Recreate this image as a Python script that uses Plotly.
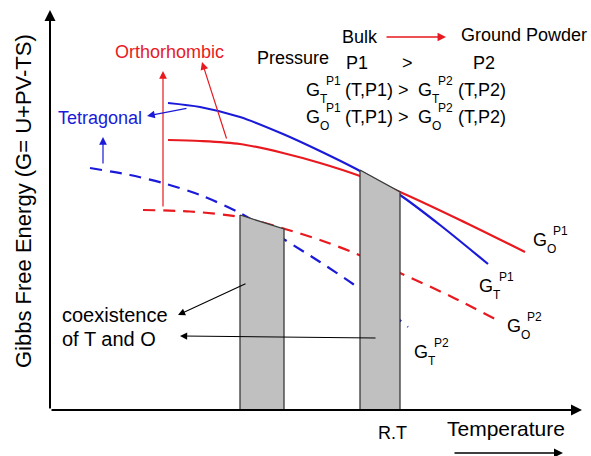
import plotly.graph_objects as go

# ---- schematic curve data (temperature -> x, Gibbs energy -> y, y axis drawn reversed) ----
T_GT_P1 = [168, 200, 240, 283, 320, 360, 400, 440, 488]
G_GT_P1 = [103, 107, 117, 134, 151, 171, 195, 225, 264]

T_GO_P1 = [168, 200, 240, 283, 320, 360, 400, 460, 525]
G_GO_P1 = [140, 141, 144, 153, 163, 176, 192, 220, 252]

T_GT_P2 = [90, 130, 163, 200, 240, 285, 320, 353, 380, 408]
G_GT_P2 = [168, 175, 183, 195, 213, 240, 262, 284, 304, 327]

T_GO_P2 = [143, 190, 240, 285, 320, 352, 400, 450, 497]
G_GO_P2 = [210, 211.5, 217, 229, 240, 252, 273, 296, 320]

# coexistence regions (shaded)
BOX1_T = [240, 284, 284, 240, 240]
BOX1_G = [215, 229, 410, 410, 215]
BOX2_T = [360, 400, 400, 360, 360]
BOX2_G = [170, 192, 410, 410, 170]

RED = "#e8191f"
BLUE = "#1a1ad8"
FONT = "Liberation Sans, Arial, sans-serif"

fig = go.Figure()

def curve(x, y, color, dash=None):
    fig.add_trace(go.Scatter(x=x, y=y, mode="lines", hoverinfo="skip",
                             line=dict(color=color, width=2.2, shape="spline",
                                       smoothing=0.8, dash=dash)))

curve(T_GT_P2, G_GT_P2, BLUE, "12px,8px")
curve(T_GO_P2, G_GO_P2, RED, "12px,8px")
curve(T_GO_P1, G_GO_P1, RED)
curve(T_GT_P1, G_GT_P1, BLUE)

for bx, by in [(BOX1_T, BOX1_G), (BOX2_T, BOX2_G)]:
    fig.add_trace(go.Scatter(x=bx, y=by, mode="lines", fill="toself",
                             fillcolor="#c0c0c0", hoverinfo="skip",
                             line=dict(color="#3a3a3a", width=1.3)))

ann = []

def arrow(x0, y0, x1, y1, color="black", width=1.2, head=2, size=1.3):
    ann.append(dict(x=x1, y=y1, ax=x0, ay=y0, xref="x", yref="y", axref="x", ayref="y",
                    showarrow=True, text="", arrowhead=head, arrowsize=size,
                    arrowwidth=width, arrowcolor=color, standoff=0, startstandoff=0))

def text(x, y, s, size=18, color="black", xanchor="left", angle=0):
    ann.append(dict(x=x, y=y, xref="x", yref="y", text=s, showarrow=False,
                    xanchor=xanchor, yanchor="middle", textangle=angle,
                    font=dict(family=FONT, size=size, color=color)))

def glabel(x0, y, sub, sup, size=18, ssize=12):
    text(x0, y, "G", size)
    text(x0 + 14, y + 9, sub, ssize)
    text(x0 + 20, y - 9, sup, ssize)

# axes
arrow(50, 410, 50, 10, width=2, size=1.1)
arrow(50, 410, 582, 410, width=2, size=1.1)
arrow(453, 453, 563, 453, width=1.5, size=1.2)

# phase arrows
arrow(163, 208, 163, 71, RED, 1.2)
arrow(227, 140, 202, 62, RED, 1.2)
arrow(188, 108, 147, 116, BLUE, 1.2)
arrow(103, 165, 103, 137, BLUE, 1.2)
arrow(247, 283, 178, 315, "black", 1.1)
arrow(377, 338, 180, 336, "black", 1.1)
arrow(385, 37, 446, 37, RED, 1.3)

# texts
text(23, 201, "Gibbs Free Energy (G= U+PV-TS)", 22, xanchor="center", angle=-90)
text(169, 52, "Orthorhombic", 18, RED, "center")
text(100, 118, "Tetragonal", 18, BLUE, "center")
text(293, 58, "Pressure", 18, xanchor="center")
text(360, 37, "Bulk", 18, xanchor="center")
text(524, 35, "Ground Powder", 18, xanchor="center")
text(357, 63, "P1", 18, xanchor="center")
text(407, 63, ">", 18, xanchor="center")
text(484, 63, "P2", 18, xanchor="center")

for yy, ph in [(90, "T"), (117, "O")]:
    glabel(304, yy, ph, "P1")
    text(343, yy, "(T,P1) >", 18)
    glabel(416, yy, ph, "P2")
    text(456, yy, "(T,P2)", 18)

glabel(531, 240, "O", "P1")
glabel(477, 286, "T", "P1")
glabel(505, 326, "O", "P2")
glabel(412, 352, "T", "P2")

text(60, 315, "coexistence", 20)
text(60, 339, "of T and O", 20)
text(392, 433, "R.T", 18, xanchor="center")
text(506, 428, "Temperature", 21, xanchor="center")

fig.update_layout(
    width=591, height=456, margin=dict(l=0, r=0, t=0, b=0),
    paper_bgcolor="white", plot_bgcolor="white", showlegend=False,
    xaxis=dict(range=[0, 591], visible=False, fixedrange=True),
    yaxis=dict(range=[456, 0], visible=False, fixedrange=True),
    annotations=ann,
)

fig.write_html("out.html")
